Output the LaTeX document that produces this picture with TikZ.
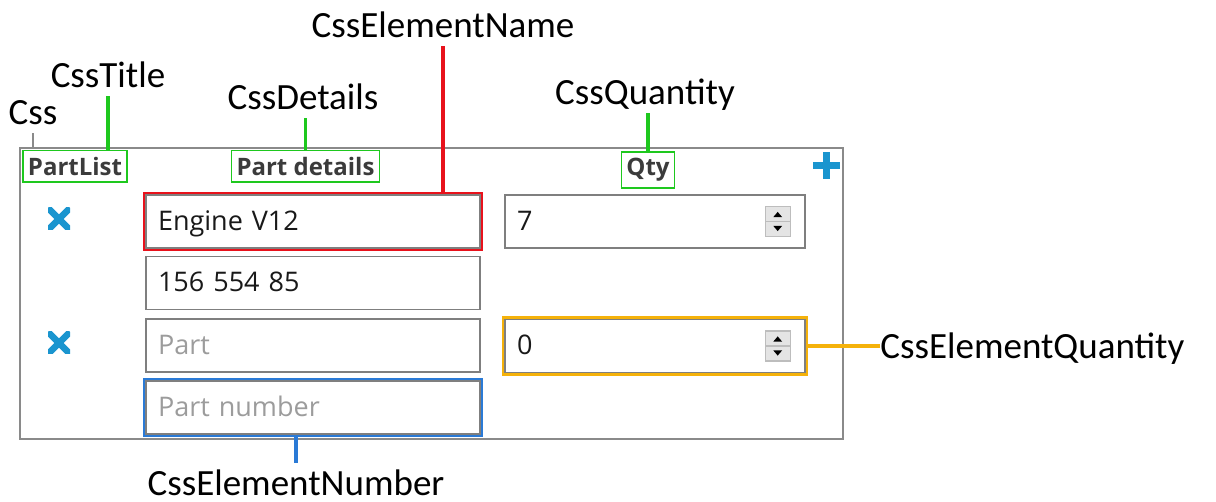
\documentclass[tikz,border=0pt]{standalone}
\usepackage{fontspec}
\usepackage{tikz}
\usetikzlibrary{positioning,fit}

\newfontfamily\calloutfont{Carlito}
\newfontfamily\formfont{Open Sans}

\definecolor{panelgray}{HTML}{8A8A8A}
\definecolor{fieldgray}{HTML}{7F7F7F}
\definecolor{hlgreen}{HTML}{1EC81E}
\definecolor{hlred}{HTML}{E8121C}
\definecolor{hlblue}{HTML}{2A7AD6}
\definecolor{hlorange}{HTML}{F5B20A}
\definecolor{iconblue}{HTML}{1A95CF}
\definecolor{headtext}{HTML}{3B3B3B}
\definecolor{hinttext}{HTML}{9C9C9C}
\definecolor{spinfill}{HTML}{E4E4E4}
\definecolor{spinedge}{HTML}{BDBDBD}

\begin{document}
\begin{tikzpicture}[x=0.5pt,y=-0.5pt]
	\tikzset{callout/.style={font=\calloutfont\fontsize{18.5}{20}\selectfont,inner sep=0pt,text height=16pt,text depth=4pt,anchor=base}}
	\tikzset{leader/.style={line width=1.6pt}}
	\tikzset{panel/.style={draw=panelgray,line width=0.8pt,minimum width=411.5pt,minimum height=145.5pt,inner sep=0pt}}
	\tikzset{headbox/.style={draw=hlgreen,line width=0.9pt,text=headtext,font=\formfont\bfseries\fontsize{12}{14}\selectfont,inner xsep=2.5pt,minimum height=15.5pt}}
	\tikzset{field/.style={draw=fieldgray,line width=0.8pt,text width=155pt,inner xsep=6pt,minimum height=26.5pt,align=left,text height=9.6pt,text depth=0.6pt,font=\formfont\fontsize{13.5}{15}\selectfont,text=black!90}}
	\tikzset{qtyfield/.style={field,text width=138pt}}
	\tikzset{hint/.style={text=hinttext}}
	\tikzset{hlbox/.style={line width=1.1pt,inner sep=0.6pt}}
	\tikzset{delicon/.style={minimum size=11pt,inner sep=0pt,path picture={
		\draw[iconblue,line width=3.2pt] (path picture bounding box.north west) -- (path picture bounding box.south east)
			(path picture bounding box.north east) -- (path picture bounding box.south west);}}}
	\tikzset{addicon/.style={minimum size=13.5pt,inner sep=0pt,path picture={
		\draw[iconblue,line width=3.5pt] (path picture bounding box.north) -- (path picture bounding box.south)
			(path picture bounding box.west) -- (path picture bounding box.east);}}}
	\tikzset{spinner/.style={draw=spinedge,fill=spinfill,line width=0.6pt,minimum width=12.5pt,minimum height=15pt,inner sep=0pt,path picture={
		\draw[spinedge,line width=0.6pt] (path picture bounding box.west) -- (path picture bounding box.east);
		\fill[black] ([shift={(-2.2pt,2.2pt)}]path picture bounding box.center) -- ([shift={(2.2pt,2.2pt)}]path picture bounding box.center)
			-- ([shift={(0pt,4.8pt)}]path picture bounding box.center) -- cycle;
		\fill[black] ([shift={(-2.2pt,-2.2pt)}]path picture bounding box.center) -- ([shift={(2.2pt,-2.2pt)}]path picture bounding box.center)
			-- ([shift={(0pt,-4.8pt)}]path picture bounding box.center) -- cycle;}}}
	\useasboundingbox (0,0) rectangle (1216,502);

	% the list control
	\node[panel] (panel) at (431.5,293.5) {};
	\node[headbox] (titlebox) at (75,166.5) {PartList};
	\node[headbox] (detailsbox) at (305.5,166.5) {Part details};
	\node[headbox] (qtybox) at (648,170) {Qty};
	\node[addicon] (add) at (826.5,166) {};

	\node[delicon] (del) at (59,219) {};
	\node[field] (name) at (313,221.5) {Engine V12};
	\node[field] (number) at (313,283) {156 554 85};
	\node[qtyfield] (qty) at (655,221.5) {7};
	\node[spinner,left=7.5pt of qty.east] (spin) {};

	\node[delicon] (deltwo) at (59,343) {};
	\node[field,hint] (nametwo) at (313,345.5) {Part};
	\node[field,hint] (numbertwo) at (313,407.5) {Part number};
	\node[qtyfield] (qtytwo) at (655,346) {0};
	\node[spinner,left=7.5pt of qtytwo.east] (spintwo) {};

	% highlighted elements
	\node[hlbox,draw=hlred,fit=(name)] (namehl) {};
	\node[hlbox,draw=hlblue,fit=(numbertwo)] (numberhl) {};
	\node[hlbox,draw=hlorange,fit=(qtytwo)] (qtyhl) {};

	% css class names
	\node[callout] (lblName) at (443,38) {CssElementName};
	\node[callout] (lblTitle) at (108,88) {CssTitle};
	\node[callout] (lblCss) at (33,125) {Css};
	\node[callout] (lblDetails) at (303,110) {CssDetails};
	\node[callout] (lblQty) at (645,105) {CssQuantity};
	\node[callout,anchor=base west] (lblQtyEl) at (880,358) {CssElementQuantity};
	\node[callout] (lblNumber) at (296,495) {CssElementNumber};

	\draw[leader,panelgray,line width=1pt] (lblCss.south) -- (lblCss.south |- panel.north);
	\draw[leader,hlgreen] (lblTitle.south) -- (lblTitle.south |- titlebox.north);
	\draw[leader,hlgreen] (detailsbox.north) -- (detailsbox.north |- lblDetails.south);
	\draw[leader,hlgreen] (qtybox.north) -- (qtybox.north |- lblQty.south);
	\draw[leader,hlred] (lblName.south) -- (lblName.south |- namehl.north);
	\draw[leader,hlblue] (lblNumber.north |- numberhl.south) -- (lblNumber.north);
	\draw[leader,hlorange] (qtyhl.east) -- (lblQtyEl.west |- qtyhl.east);
\end{tikzpicture}
\end{document}
